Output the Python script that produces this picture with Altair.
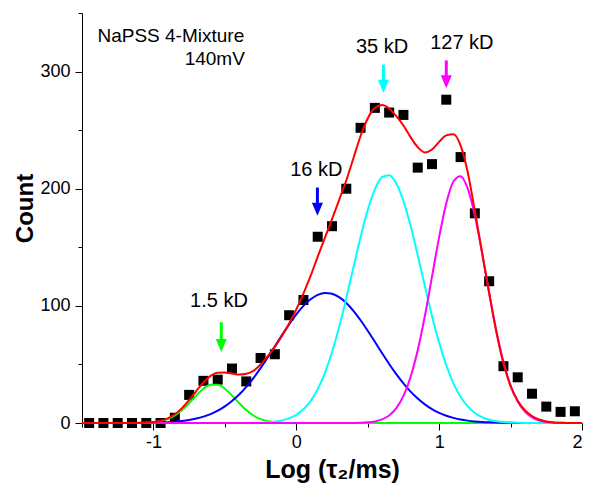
import altair as alt
import pandas as pd

# ---------------- data ----------------
PT_X = [-1.45, -1.35, -1.25, -1.15, -1.05, -0.95, -0.85, -0.75, -0.65, -0.55,
        -0.45, -0.35, -0.25, -0.15, -0.05, 0.05, 0.15, 0.25, 0.35, 0.45,
        0.55, 0.65, 0.75, 0.85, 0.95, 1.05, 1.15, 1.25, 1.35, 1.45,
        1.55, 1.65, 1.75, 1.85, 1.95]
PT_Y = [0, 0, 0, 0, 0, 0, 4.5, 24, 36, 37,
        46.5, 35.5, 55.5, 58.7, 92, 105, 159, 168, 200, 252,
        269, 265, 263, 218, 221, 276, 227, 179, 121, 48.5,
        39, 25, 14, 9.5, 10]

GRID_X = [-1.50, -1.45, -1.40, -1.35, -1.30, -1.25, -1.20, -1.15, -1.10, -1.05,
          -1.00, -0.95, -0.90, -0.85, -0.80, -0.75, -0.70, -0.65, -0.60, -0.55,
          -0.50, -0.45, -0.40, -0.35, -0.30, -0.25, -0.20, -0.15, -0.10, -0.05,
          0.00, 0.05, 0.10, 0.15, 0.20, 0.25, 0.30, 0.35, 0.40, 0.45,
          0.50, 0.55, 0.60, 0.65, 0.70, 0.75, 0.80, 0.85, 0.90, 0.95,
          1.00, 1.05, 1.10, 1.15, 1.20, 1.25, 1.30, 1.35, 1.40, 1.45,
          1.50, 1.55, 1.60, 1.65, 1.70, 1.75, 1.80, 1.85, 1.90, 1.95,
          2.00]

GREEN = [0, 0, 0, 0, 0, 0, 0, 0.02, 0.08, 0.24,
         0.65, 1.55, 3.3, 6.4, 11.0, 17.0, 23.5, 29.2, 32.6, 32.6,
         29.2, 23.5, 17.0, 11.0, 6.4, 3.3, 1.55, 0.65, 0.24, 0.08,
         0.02, 0, 0, 0, 0, 0, 0, 0, 0, 0,
         0, 0, 0, 0, 0, 0, 0, 0, 0, 0,
         0, 0, 0, 0, 0, 0, 0, 0, 0, 0,
         0, 0, 0, 0, 0, 0, 0, 0, 0, 0,
         0]

BLUE = [0, 0, 0, 0.01, 0.01, 0.02, 0.03, 0.06, 0.1, 0.17,
        0.28, 0.46, 0.73, 1.13, 1.73, 2.58, 3.78, 5.42, 7.63, 10.5,
        14.2, 18.8, 24.3, 30.9, 38.4, 46.8, 55.9, 65.4, 75.0, 84.2,
        92.7, 100.0, 105.6, 109.4, 111.0, 110.3, 107.4, 102.5, 95.8, 87.7,
        78.8, 69.3, 59.7, 50.4, 41.7, 33.8, 26.8, 20.9, 15.9, 11.9,
        8.7, 6.2, 4.4, 3.0, 2.03, 1.34, 0.87, 0.55, 0.34, 0.21,
        0.13, 0.08, 0.05, 0.03, 0.02, 0.01, 0, 0, 0, 0,
        0]

CYAN = [0, 0, 0, 0, 0, 0, 0, 0, 0, 0,
        0, 0, 0, 0, 0, 0, 0, 0, 0, 0,
        0, 0, 0, 0.06, 0.13, 0.28, 0.58, 1.14, 2.18, 3.98,
        6.96, 11.7, 18.7, 28.9, 42.6, 60.4, 81.9, 106.5, 132.8, 158.6,
        181.7, 199.4, 209.8, 211.6, 204.5, 189.5, 168.3, 143.3, 116.9, 91.4,
        68.6, 49.3, 33.9, 22.4, 14.2, 8.6, 5.0, 2.78, 1.49, 0.76,
        0.37, 0.18, 0.08, 0.03, 0, 0, 0, 0, 0, 0,
        0]

MAGENTA = [0, 0, 0, 0, 0, 0, 0, 0, 0, 0,
           0, 0, 0, 0, 0, 0, 0, 0, 0, 0,
           0, 0, 0, 0, 0, 0, 0, 0, 0, 0,
           0, 0, 0, 0, 0, 0, 0, 0.02, 0.07, 0.21,
           0.55, 1.34, 3.04, 6.4, 12.7, 23.1, 39.3, 62.1, 91.3, 124.9,
           158.7, 187.6, 206.1, 210.7, 200.2, 177.0, 145.4, 111.2, 79.0, 52.2,
           32.1, 18.3, 9.7, 4.8, 2.2, 0.95, 0.38, 0.14, 0.05, 0.02,
           0]

RED = [0, 0, 0, 0, 0, 0, 0.05, 0.1, 0.2, 0.4,
       0.9, 2.0, 4.0, 7.5, 12.7, 19.6, 27.3, 34.6, 40.2, 43.0,
       43.2, 42.2, 41.3, 42.0, 44.5, 50.0, 57.0, 65.0, 74.5, 85.0,
       97.0, 110.5, 125.5, 142.0, 158.0, 174.0, 190.5, 207.0, 226.0, 245.0,
       260.0, 269.0, 271.5, 268.5, 262.0, 254.0, 244.0, 235.5, 231.0, 233.5,
       240.0, 245.5, 246.5, 237.0, 214.0, 181.0, 146.0, 111.0, 78.0, 51.0,
       31.5, 19.0, 11.0, 6.0, 3.0, 1.3, 0.5, 0.2, 0.05, 0,
       0]

SERIES = ["green", "blue", "cyan", "magenta", "red"]
SERIES_COLOR = ["#00FF00", "#0000FF", "#00FFFF", "#FF00FF", "#FF0000"]

LABEL_TEXT = ["1.5 kD", "16 kD", "35 kD", "127 kD"]
LABEL_X = [-0.541, 0.14, 0.60, 1.159]
LABEL_Y = [104, 216, 321, 324.5]

ARROW_X = [-0.525, 0.148, 0.61, 1.05]
ARROW_TOP = [86, 201, 306, 309.5]
ARROW_TIP = [60.7, 177, 282, 285.7]
ARROW_COLOR = ["#00FF00", "#0000FF", "#00FFFF", "#FF00FF"]

NOTE_TEXT = ["NaPSS 4-Mixture", "140mV"]
NOTE_X = [-1.392, -0.36]
NOTE_Y = [330, 310.6]

# ---------------- chart ----------------
FONT = "Liberation Sans"
W, H = 500, 410
xscale = alt.Scale(domain=[-1.5, 2.0], nice=False, zero=False)
yscale = alt.Scale(domain=[0, 350], nice=False)

pts = pd.DataFrame({"x": PT_X, "y": PT_Y})
curves = {name: pd.DataFrame({"x": GRID_X, "y": vals})
          for name, vals in zip(SERIES, [GREEN, BLUE, CYAN, MAGENTA, RED])}

HEAD_PX = 13.0
cnt_per_px = 350.0 / H
arrows = pd.DataFrame({
    "x": ARROW_X,
    "top": ARROW_TOP,
    "tip": ARROW_TIP,
    "col": ARROW_COLOR,
})
arrows["head"] = arrows["tip"] + HEAD_PX / 2 * cnt_per_px
arrows["shaft_end"] = arrows["tip"] + HEAD_PX * 0.6 * cnt_per_px

labels = pd.DataFrame({"x": LABEL_X, "y": LABEL_Y, "t": LABEL_TEXT})

major_x = alt.Axis(values=[-1, 0, 1, 2], orient="bottom", title="Log (τ₂/ms)",
                   labelExpr="'' + datum.value", tickSize=7, labelFontSize=18,
                   labelPadding=3, titleFontSize=25, titleFontWeight="bold",
                   titleBaseline="alphabetic", titlePadding=26, grid=False,
                   labelFlush=True)
major_y = alt.Axis(values=[0, 100, 200, 300], orient="left", title="Count",
                   tickSize=7, labelFontSize=18, labelPadding=5,
                   titleFontSize=24, titleFontWeight="bold", titlePadding=2,
                   titleY=195, grid=False)
minor_x = alt.Axis(values=[-1.5, -0.5, 0.5, 1.5], orient="bottom", labels=False,
                   domain=False, title=None, tickSize=4, grid=False)
minor_y = alt.Axis(values=[50, 150, 250, 350], orient="left", labels=False,
                   domain=False, title=None, tickSize=4, grid=False)

X0 = lambda: alt.X("x:Q", scale=xscale, axis=None)
Y0 = lambda f="y": alt.Y(f"{f}:Q", scale=yscale, axis=None)

points = alt.Chart(pts).mark_square(size=100, color="black", opacity=1).encode(
    x=alt.X("x:Q", scale=xscale, axis=major_x),
    y=alt.Y("y:Q", scale=yscale, axis=major_y),
)
minor = alt.Chart(pts).mark_point(opacity=0).encode(
    x=alt.X("x:Q", scale=xscale, axis=minor_x),
    y=alt.Y("y:Q", scale=yscale, axis=minor_y),
)

line_layers = [
    alt.Chart(curves[name]).mark_line(color=col, strokeWidth=2, interpolate="monotone")
    .encode(x=X0(), y=Y0())
    for name, col in zip(SERIES, SERIES_COLOR)
]

shafts = alt.Chart(arrows).mark_rule(strokeWidth=3).encode(
    x=X0(), y=Y0("top"), y2="shaft_end:Q",
    color=alt.Color("col:N", scale=None),
)
heads = alt.Chart(arrows).mark_point(
    shape="M-0.85,-1L0.85,-1L0,1Z", size=HEAD_PX ** 2, filled=True, opacity=1
).encode(
    x=X0(), y=Y0("head"), color=alt.Color("col:N", scale=None),
)

label_text = alt.Chart(labels).mark_text(
    font=FONT, fontSize=20, color="black", align="center", baseline="middle"
).encode(x=X0(), y=Y0(), text="t:N")

note1 = alt.Chart(pd.DataFrame({"x": NOTE_X[:1], "y": NOTE_Y[:1], "t": NOTE_TEXT[:1]})).mark_text(
    font=FONT, fontSize=19, color="black", align="left", baseline="middle"
).encode(x=X0(), y=Y0(), text="t:N")
note2 = alt.Chart(pd.DataFrame({"x": NOTE_X[1:], "y": NOTE_Y[1:], "t": NOTE_TEXT[1:]})).mark_text(
    font=FONT, fontSize=19, color="black", align="right", baseline="middle"
).encode(x=X0(), y=Y0(), text="t:N")

chart = (
    alt.layer(points, minor, *line_layers, shafts, heads, label_text, note1, note2)
    .resolve_scale(x="shared", y="shared")
    .resolve_axis(x="independent", y="independent")
    .properties(
        width=W, height=H,
        autosize=alt.AutoSizeParams(type="none"),
        padding={"left": 74, "top": 5, "right": 1, "bottom": 63},
    )
    .configure_view(stroke=None)
    .configure_axis(domainColor="black", tickColor="black", labelColor="black",
                    titleColor="black", labelFont=FONT, titleFont=FONT,
                    domainWidth=1, tickWidth=1)
)

chart.save("out.html", embed_options={"renderer": "svg", "actions": False})
